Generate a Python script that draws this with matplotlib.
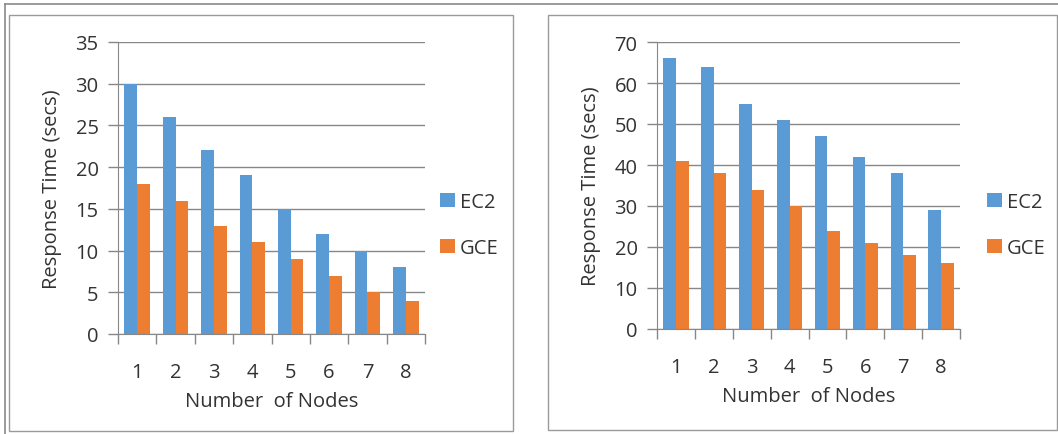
import matplotlib
matplotlib.use("Agg")
import matplotlib.pyplot as plt
from matplotlib.patches import Rectangle
from matplotlib.lines import Line2D
import numpy as np

nodes = [1, 2, 3, 4, 5, 6, 7, 8]
series = ["EC2", "GCE"]
left_ec2 = [30, 26, 22, 19, 15, 12, 10, 8]
left_gce = [18, 16, 13, 11, 9, 7, 5, 4]
right_ec2 = [66, 64, 55, 51, 47, 42, 38, 29]
right_gce = [41, 38, 34, 30, 24, 21, 18, 16]

BLUE = "#5B9BD5"
ORANGE = "#ED7D31"
GRID = "#878787"
TEXT = "#333333"
FS = 14.5

W, H = 1058, 435
plt.rcParams["font.family"] = ["Open Sans", "DejaVu Sans"]
plt.rcParams["font.size"] = FS

fig = plt.figure(figsize=(W / 100, H / 100), dpi=100)


def px_axes(x0, y0, x1, y1):
    # pixel box (top-left origin) -> figure fraction
    return fig.add_axes([x0 / W, 1 - y1 / H, (x1 - x0) / W, (y1 - y0) / H])


def draw_panel(ax, ec2, gce, ymax, step, legend_xy):
    x = np.array(nodes)
    w = 1 / 3
    b1 = ax.bar(x - w / 2, ec2, width=w, color=BLUE, zorder=3)
    b2 = ax.bar(x + w / 2, gce, width=w, color=ORANGE, zorder=3)
    ax.set_xlim(0.5, 8.5)
    ax.set_ylim(0, ymax)
    ax.set_yticks(np.arange(0, ymax + 1, step))
    ax.set_xticks(x)
    ax.set_xticks(np.arange(0.5, 9, 1), minor=True)
    ax.tick_params(axis="x", which="major", length=0, pad=20, colors=TEXT, labelsize=FS)
    ax.tick_params(axis="x", which="minor", length=7, color=GRID, width=1)
    ax.tick_params(axis="y", length=7, color=GRID, width=1, pad=7, labelcolor=TEXT, labelsize=FS)
    ax.yaxis.grid(True, color=GRID, linewidth=1, zorder=0)
    ax.set_axisbelow(True)
    for s in ["top", "right"]:
        ax.spines[s].set_visible(False)
    for s in ["left", "bottom"]:
        ax.spines[s].set_color(GRID)
        ax.spines[s].set_zorder(4)
    ax.set_xlabel("Number  of Nodes", color=TEXT, fontsize=FS, labelpad=7)
    ax.set_ylabel("Response Time (secs)", color=TEXT, fontsize=FS, labelpad=10)
    leg = ax.legend([b1, b2], series, loc="center left",
                    bbox_to_anchor=(legend_xy[0] / W, 1 - legend_xy[1] / H),
                    bbox_transform=fig.transFigure, frameon=False,
                    handlelength=0.75, handleheight=0.75, handletextpad=0.25,
                    labelspacing=1.3, fontsize=FS, borderpad=0, borderaxespad=0)
    for t in leg.get_texts():
        t.set_color(TEXT)


ax1 = px_axes(118, 43, 425, 335)
draw_panel(ax1, left_ec2, left_gce, 35, 5, (440, 226))

ax2 = px_axes(657, 43, 960, 330)
draw_panel(ax2, right_ec2, right_gce, 70, 10, (987, 226))

# panel borders and outer frame
for x0, y0, x1, y1 in [(9, 16, 513, 432), (548, 16, 1057, 431)]:
    fig.patches.append(Rectangle((x0 / W, 1 - y1 / H), (x1 - x0) / W, (y1 - y0) / H,
                                 transform=fig.transFigure, fill=False,
                                 edgecolor="#9A9A9A", linewidth=1))
fig.lines.append(Line2D([5 / W, 1], [1 - 5 / H, 1 - 5 / H], transform=fig.transFigure,
                        color="#8A8A8A", linewidth=1.2))
fig.lines.append(Line2D([5 / W, 5 / W], [0, 1 - 5 / H], transform=fig.transFigure,
                        color="#8A8A8A", linewidth=1.2))

fig.savefig("out.png", dpi=100)
